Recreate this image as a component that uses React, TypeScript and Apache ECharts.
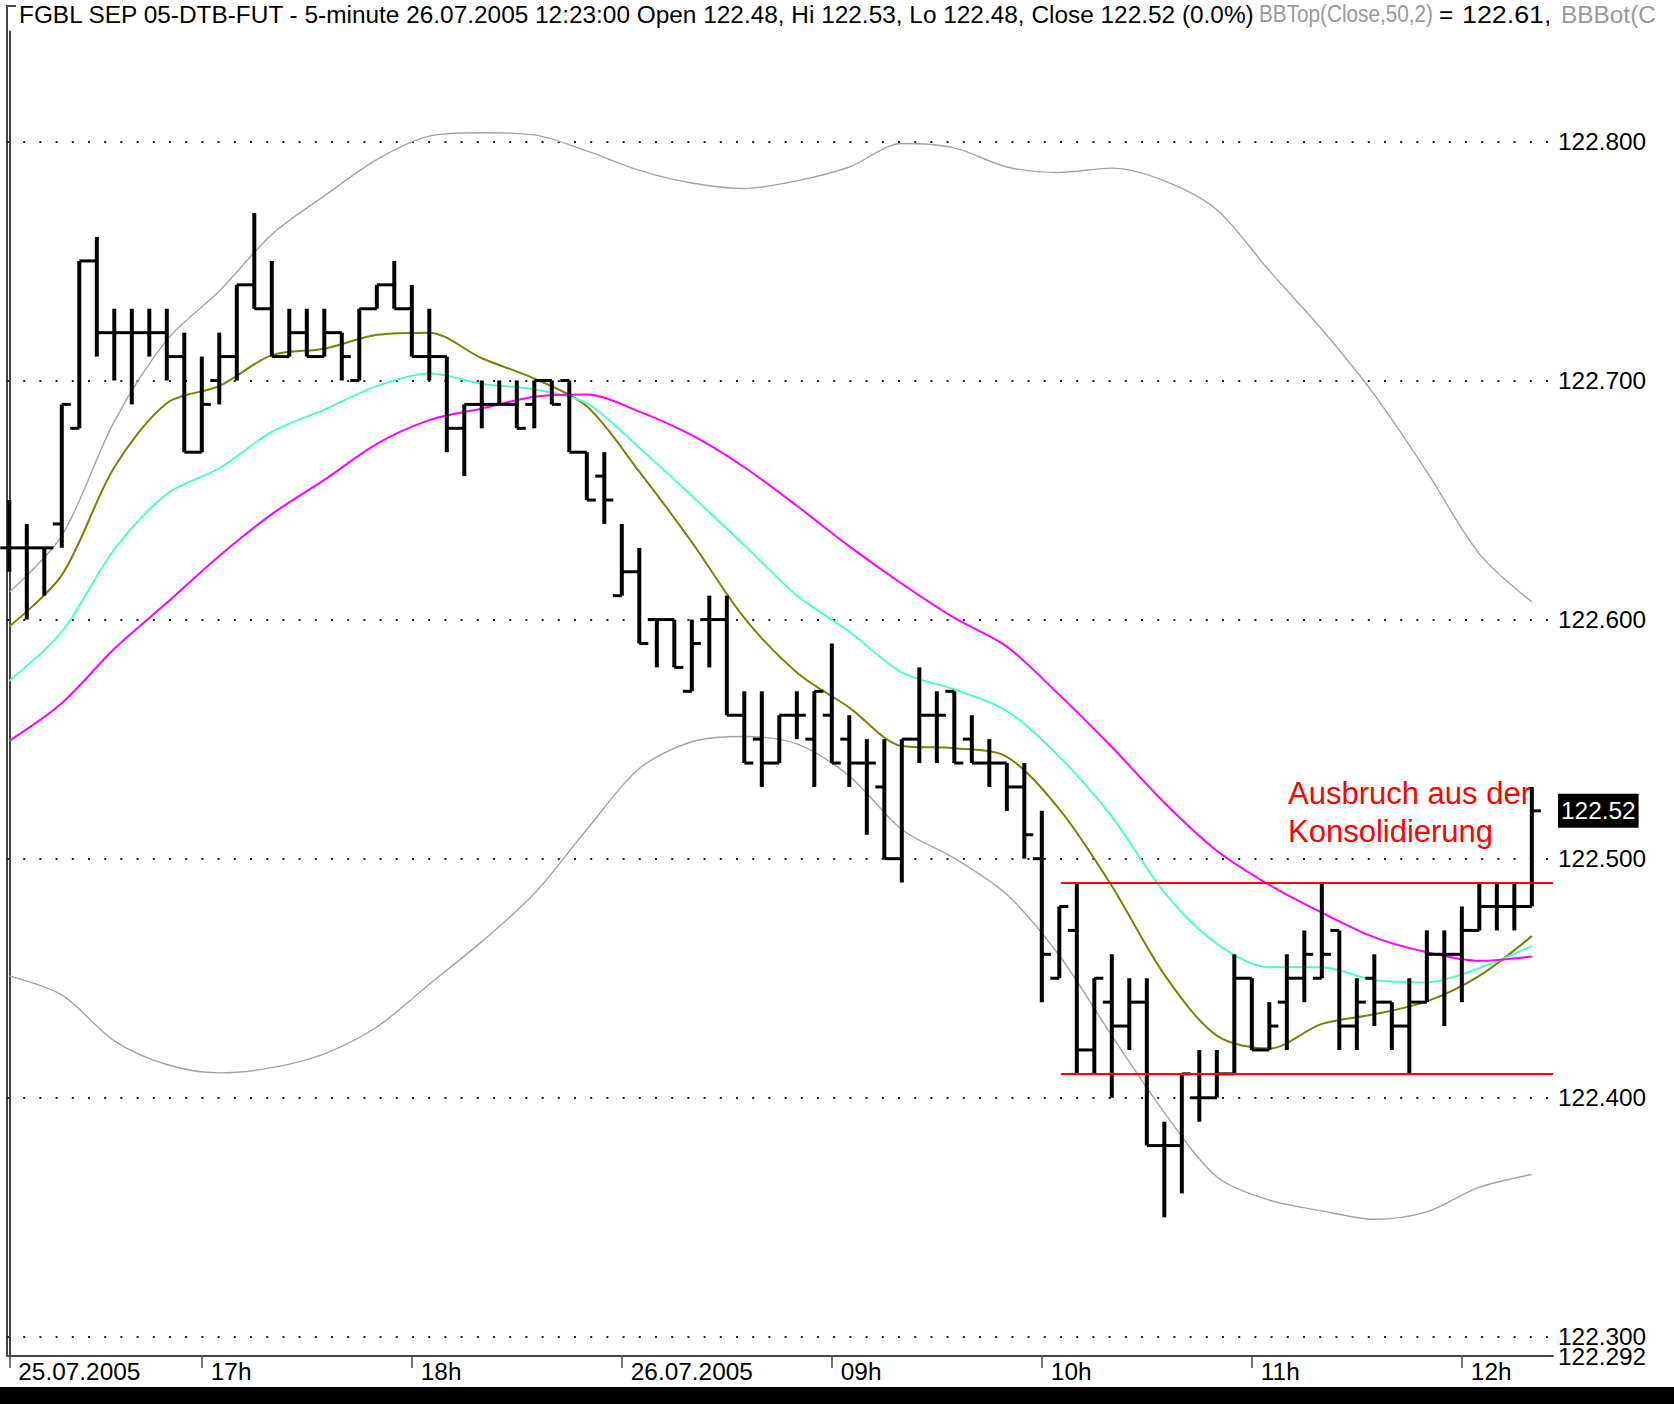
import React, { useEffect, useRef } from "react";
import * as echarts from "echarts";

// ---- OHLC data (5-minute bars, 25.07.2005 16:05 .. 26.07.2005 12:20) ----
const open = [122.63,122.63,122.63,122.64,122.68,122.75,122.72,122.72,122.72,122.72,122.71,122.67,122.70,122.71,122.74,122.73,122.71,122.72,122.71,122.72,122.70,122.73,122.74,122.73,122.71,122.71,122.68,122.69,122.69,122.69,122.69,122.70,122.70,122.67,122.66,122.61,122.62,122.60,122.60,122.57,122.60,122.60,122.56,122.55,122.54,122.56,122.55,122.56,122.55,122.54,122.53,122.50,122.55,122.56,122.57,122.55,122.54,122.54,122.53,122.50,122.45,122.47,122.42,122.44,122.43,122.44,122.38,122.38,122.40,122.40,122.41,122.45,122.42,122.44,122.45,122.45,122.47,122.43,122.45,122.44,122.43,122.44,122.46,122.46,122.47,122.48,122.48,122.48];
const high = [122.65,122.64,122.63,122.69,122.75,122.76,122.73,122.73,122.73,122.73,122.72,122.71,122.72,122.74,122.77,122.75,122.73,122.73,122.73,122.72,122.73,122.74,122.75,122.74,122.73,122.71,122.69,122.70,122.70,122.70,122.70,122.70,122.70,122.67,122.67,122.64,122.63,122.60,122.60,122.60,122.61,122.61,122.57,122.57,122.56,122.57,122.57,122.59,122.56,122.55,122.55,122.55,122.58,122.57,122.57,122.56,122.55,122.54,122.54,122.52,122.48,122.49,122.45,122.46,122.45,122.45,122.39,122.41,122.42,122.42,122.46,122.45,122.44,122.46,122.47,122.49,122.47,122.45,122.46,122.44,122.45,122.47,122.47,122.48,122.49,122.49,122.49,122.53];
const low = [122.62,122.60,122.61,122.63,122.68,122.71,122.70,122.69,122.71,122.70,122.67,122.67,122.69,122.70,122.73,122.71,122.71,122.71,122.71,122.70,122.70,122.73,122.73,122.71,122.70,122.67,122.66,122.68,122.69,122.68,122.68,122.69,122.67,122.65,122.64,122.61,122.59,122.58,122.58,122.57,122.58,122.56,122.54,122.53,122.54,122.55,122.53,122.54,122.53,122.51,122.50,122.49,122.54,122.54,122.54,122.54,122.53,122.52,122.50,122.44,122.45,122.41,122.41,122.40,122.42,122.38,122.35,122.36,122.39,122.40,122.41,122.42,122.42,122.42,122.44,122.45,122.42,122.42,122.43,122.42,122.41,122.44,122.43,122.44,122.47,122.47,122.47,122.48];
const close = [122.63,122.63,122.63,122.69,122.75,122.72,122.72,122.72,122.72,122.71,122.67,122.69,122.71,122.74,122.73,122.71,122.72,122.71,122.72,122.71,122.73,122.74,122.73,122.71,122.71,122.68,122.69,122.69,122.69,122.68,122.70,122.69,122.67,122.65,122.65,122.62,122.59,122.60,122.58,122.59,122.60,122.56,122.54,122.54,122.56,122.56,122.57,122.54,122.54,122.54,122.50,122.55,122.56,122.56,122.54,122.54,122.54,122.53,122.51,122.46,122.48,122.42,122.45,122.43,122.44,122.38,122.38,122.41,122.40,122.41,122.45,122.42,122.43,122.45,122.46,122.46,122.43,122.44,122.44,122.43,122.44,122.46,122.46,122.47,122.48,122.48,122.48,122.52];

// ---- indicator lines, read every 3rd bar ----
const lineIdx = [0,3,6,9,12,15,18,21,24,27,30,33,36,39,42,45,48,51,54,57,60,63,66,69,72,75,78,81,84,87];
const bbTop = [122.6114,122.6351,122.6829,122.7169,122.7374,122.7611,122.7772,122.7924,122.8022,122.8036,122.8027,122.7960,122.7879,122.7826,122.7803,122.7835,122.7893,122.7991,122.7973,122.7893,122.7870,122.7888,122.7835,122.7714,122.7459,122.7214,122.6941,122.6619,122.6275,122.6074];
const bbBot = [122.4510,122.4430,122.4238,122.4139,122.4104,122.4126,122.4184,122.4296,122.4475,122.4653,122.4854,122.5122,122.5377,122.5489,122.5511,122.5480,122.5346,122.5122,122.5002,122.4850,122.4595,122.4260,122.3938,122.3670,122.3572,122.3527,122.3492,122.3523,122.3626,122.3679];
const maOlive = [122.5971,122.6186,122.6637,122.6905,122.6977,122.7106,122.7133,122.7191,122.7200,122.7093,122.7008,122.6892,122.6619,122.6324,122.6007,122.5779,122.5632,122.5471,122.5462,122.5426,122.5207,122.4886,122.4515,122.4260,122.4206,122.4309,122.4349,122.4403,122.4510,122.4676];
const maAqua = [122.5744,122.5949,122.6293,122.6525,122.6633,122.6785,122.6878,122.6977,122.7030,122.6986,122.6963,122.6905,122.6718,122.6517,122.6311,122.6101,122.5949,122.5779,122.5708,122.5618,122.5426,122.5176,122.4859,122.4644,122.4546,122.4546,122.4492,122.4483,122.4542,122.4635];
const maMagenta = [122.5493,122.5650,122.5878,122.6070,122.6266,122.6441,122.6584,122.6735,122.6834,122.6883,122.6932,122.6941,122.6870,122.6771,122.6637,122.6476,122.6306,122.6150,122.6007,122.5887,122.5685,122.5467,122.5234,122.5033,122.4890,122.4774,122.4671,122.4609,122.4573,122.4591];

// ---- axes ----
const xTickIdx = [0, 11, 23, 35, 47, 59, 71, 83];
const xTickLabels = ["25.07.2005", "17h", "18h", "26.07.2005", "09h", "10h", "11h", "12h"];
const yGridValues = [122.3, 122.4, 122.5, 122.6, 122.7, 122.8];
const yLabelValues = [122.3, 122.4, 122.5, 122.52, 122.6, 122.7, 122.8];
const yMinLabel = [122.292];
const lastClose = 122.52;
const rangeStartIdx = 60.1;
const rangeHigh = 122.49;
const rangeLow = 122.41;

const FONT = "'Liberation Sans', Arial, sans-serif";
const X_MIN = -0.131;
const X_MAX = 88.21;
const Y_MIN = 122.292;
const Y_MAX = 122.846;

export default function App() {
  const ref = useRef<HTMLDivElement>(null);

  useEffect(() => {
    if (!ref.current) return;
    const chart = echarts.init(ref.current, null, { renderer: "svg" });

    const ohlc = open.map((o, i) => [i, o, high[i], low[i], close[i]]);
    const mk = (arr: number[]) => lineIdx.map((ix, k) => [ix, arr[k]]);

    const lineSeries = (name: string, arr: number[], color: string, width: number, z: number) => ({
      name,
      type: "line",
      data: mk(arr),
      showSymbol: false,
      symbol: "none",
      smooth: 0.3,
      silent: true,
      z,
      lineStyle: { color, width },
    });

    const titleText = (text: string, x: number, fill: string, scaleX = 1) => ({
      type: "text",
      silent: true,
      x,
      y: 14,
      scaleX,
      style: {
        text,
        fontSize: 24.4,
        fontFamily: FONT,
        verticalAlign: "middle",
        fill,
      },
    });

    const baseLabel = {
      margin: 5,
      fontSize: 24.4,
      lineHeight: 18,
      fontFamily: FONT,
      color: "#000",
      showMinLabel: true,
      showMaxLabel: true,
      hideOverlap: false,
    };

    const option: any = {
      animation: false,
      backgroundColor: "#ffffff",
      grid: { left: 7, right: 121, top: 31.4, bottom: 48, containLabel: false },
      xAxis: {
        type: "value",
        min: X_MIN,
        max: X_MAX,
        position: "bottom",
        axisLine: { show: true, lineStyle: { color: "#444", width: 2 } },
        axisTick: { show: true, customValues: xTickIdx, length: 12, lineStyle: { color: "#444", width: 1.5 } },
        splitLine: { show: false },
        axisLabel: {
          customValues: xTickIdx,
          formatter: (v: number) => {
            const k = xTickIdx.indexOf(Math.round(v));
            return k >= 0 ? xTickLabels[k] : "";
          },
          align: "left",
          verticalAlign: "top",
          padding: [0, 0, 0, 9],
          margin: 3,
          lineHeight: 24,
          fontSize: 24.4,
          fontFamily: FONT,
          color: "#000",
          showMinLabel: true,
          showMaxLabel: true,
        },
      },
      yAxis: [
        {
          type: "value",
          position: "right",
          min: Y_MIN,
          max: Y_MAX,
          axisLine: { show: true, lineStyle: { color: "#444", width: 2 } },
          axisTick: { show: false },
          splitLine: { show: false },
          axisLabel: {
            ...baseLabel,
            customValues: yLabelValues,
            formatter: (v: number) =>
              Math.abs(v - lastClose) < 1e-6 ? "{cur|" + lastClose.toFixed(2) + "}" : v.toFixed(3),
            rich: {
              cur: {
                backgroundColor: "#000",
                color: "#fff",
                padding: [5, 3, 5, 3],
                fontSize: 24.4,
                lineHeight: 18,
                fontFamily: FONT,
              },
            },
          },
        },
        {
          type: "value",
          position: "right",
          min: Y_MIN,
          max: Y_MAX,
          axisLine: { show: false },
          axisTick: { show: false },
          splitLine: { show: false },
          axisLabel: {
            ...baseLabel,
            customValues: yMinLabel,
            formatter: (v: number) => v.toFixed(3),
          },
        },
      ],
      series: [
        {
          ...lineSeries("BBTop", bbTop, "#a3a3a3", 1.4, 2),
          markLine: {
            silent: true,
            symbol: "none",
            label: { show: false },
            z: 6,
            lineStyle: { color: "#ff0000", width: 2, type: "solid" },
            data: [
              [{ coord: [rangeStartIdx, rangeHigh] }, { coord: [X_MAX, rangeHigh] }],
              [{ coord: [rangeStartIdx, rangeLow] }, { coord: [X_MAX, rangeLow] }],
            ],
          },
        },
        {
          ...lineSeries("BBBot", bbBot, "#a3a3a3", 1.4, 2),
          markLine: {
            silent: true,
            symbol: "none",
            label: { show: false },
            z: 1,
            lineStyle: { color: "#222", width: 2, type: [2, 14.2] },
            data: yGridValues.map((v) => ({ yAxis: v })),
          },
        },
        lineSeries("MA fast", maOlive, "#808000", 2, 3),
        lineSeries("MA mid", maAqua, "#40ffc8", 1.8, 3),
        lineSeries("MA slow", maMagenta, "#ff00ff", 2, 3),
        {
          name: "FGBL",
          type: "custom",
          z: 4,
          silent: true,
          data: ohlc,
          encode: { x: 0, y: [1, 2, 3, 4] },
          renderItem: (params: any, api: any) => {
            const x = api.value(0);
            const po = api.coord([x, api.value(1)]);
            const ph = api.coord([x, api.value(2)]);
            const pl = api.coord([x, api.value(3)]);
            const pc = api.coord([x, api.value(4)]);
            const cx = po[0];
            return {
              type: "group",
              children: [
                { type: "line", shape: { x1: cx, y1: ph[1], x2: cx, y2: pl[1] }, style: { stroke: "#000", lineWidth: 4 } },
                { type: "line", shape: { x1: cx - 9, y1: po[1], x2: cx, y2: po[1] }, style: { stroke: "#000", lineWidth: 3 } },
                { type: "line", shape: { x1: cx, y1: pc[1], x2: cx + 9, y2: pc[1] }, style: { stroke: "#000", lineWidth: 3 } },
              ],
            };
          },
        },
      ],
      graphic: [
        {
          type: "polyline",
          silent: true,
          shape: { points: [[16, 6], [7, 6], [7, 1356]] },
          style: { stroke: "#444", lineWidth: 2, fill: null },
        },
        titleText(
          "FGBL SEP 05-DTB-FUT - 5-minute 26.07.2005 12:23:00 Open 122.48, Hi 122.53, Lo 122.48, Close 122.52 (0.0%)",
          19,
          "#000"
        ),
        titleText("BBTop(Close,50,2)", 1259, "#999", 0.85),
        titleText("=", 1439, "#000"),
        titleText("122.61,", 1462, "#000", 1.1),
        titleText("BBBot(C", 1561, "#999"),
        {
          type: "text",
          silent: true,
          x: 1288,
          y: 812,
          style: {
            text: "Ausbruch aus der\nKonsolidierung",
            fontSize: 31,
            lineHeight: 38,
            fontFamily: FONT,
            fill: "#ff0000",
            verticalAlign: "middle",
          },
        },
        {
          type: "rect",
          silent: true,
          shape: { x: 0, y: 1387, width: 1674, height: 17 },
          style: { fill: "#000" },
        },
      ],
    };

    chart.setOption(option);
    return () => chart.dispose();
  }, []);

  return (
    <div
      ref={ref}
      style={{ position: "absolute", left: 0, top: 0, width: 1674, height: 1404 }}
    />
  );
}
